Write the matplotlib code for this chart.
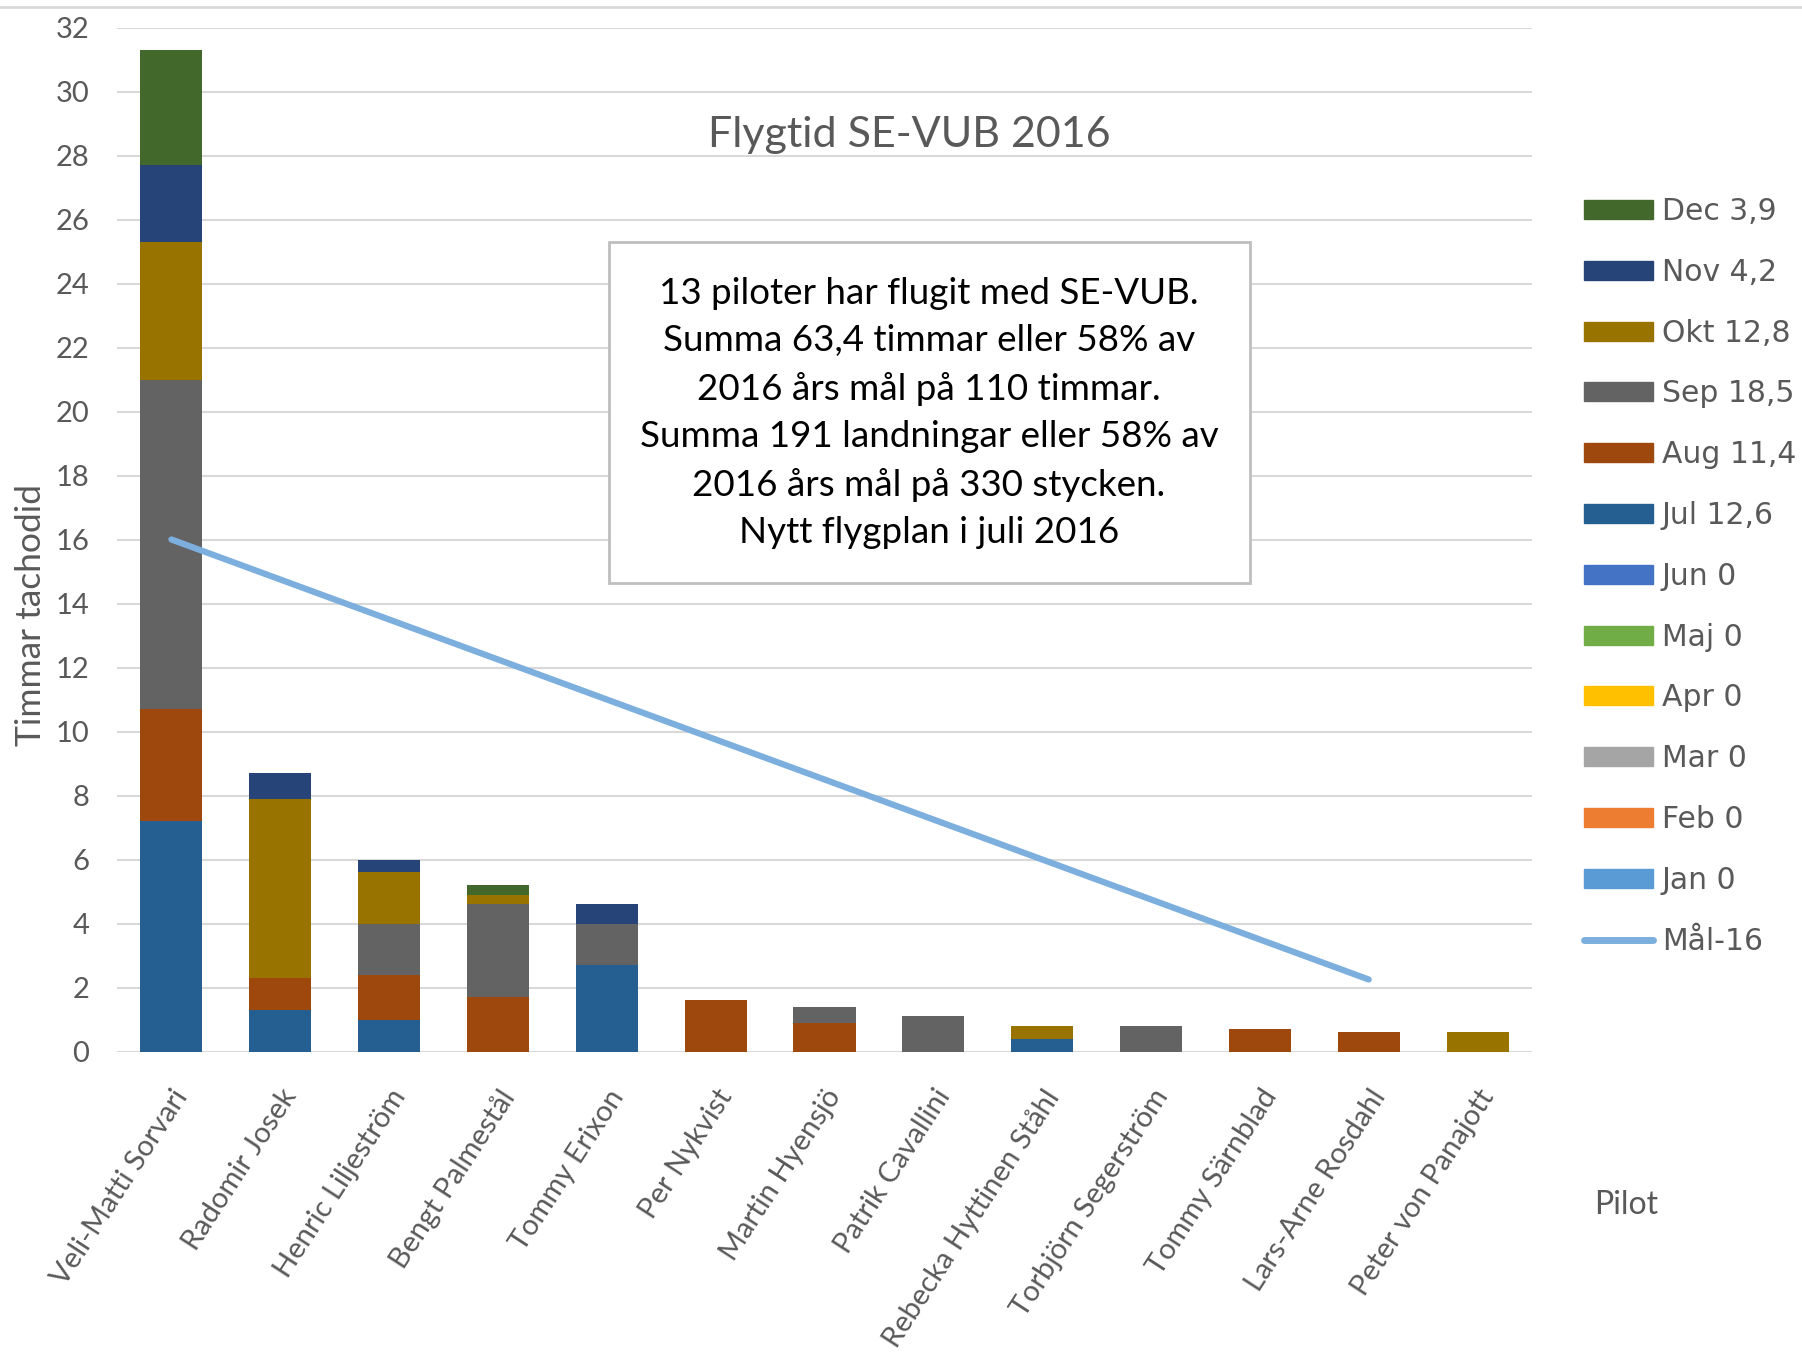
import matplotlib
matplotlib.use("Agg")
import matplotlib.pyplot as plt
from matplotlib.patches import Patch, Rectangle
from matplotlib.lines import Line2D
import numpy as np

plt.rcParams['font.family'] = ['Lato', 'DejaVu Sans']

pilots = ["Veli-Matti Sorvari", "Radomir Josek", "Henric Liljeström", "Bengt Palmestål",
          "Tommy Erixon", "Per Nykvist", "Martin Hyensjö", "Patrik Cavallini",
          "Rebecka Hyttinen Ståhl", "Torbjörn Segerström", "Tommy Särnblad",
          "Lars-Arne Rosdahl", "Peter von Panajott"]

months = ["Jan", "Feb", "Mar", "Apr", "Maj", "Jun", "Jul", "Aug", "Sep", "Okt", "Nov", "Dec"]
month_labels = ["Jan 0", "Feb 0", "Mar 0", "Apr 0", "Maj 0", "Jun 0", "Jul 12,6",
                "Aug 11,4", "Sep 18,5", "Okt 12,8", "Nov 4,2", "Dec 3,9"]

jan = [0] * 13
feb = [0] * 13
mar = [0] * 13
apr = [0] * 13
maj = [0] * 13
jun = [0] * 13
jul = [7.2, 1.3, 1.0, 0, 2.7, 0, 0, 0, 0.4, 0, 0, 0, 0]
aug = [3.5, 1.0, 1.4, 1.7, 0, 1.6, 0.9, 0, 0, 0, 0.7, 0.6, 0]
sep = [10.3, 0, 1.6, 2.9, 1.3, 0, 0.5, 1.1, 0, 0.8, 0, 0, 0]
okt = [4.3, 5.6, 1.6, 0.3, 0, 0, 0, 0, 0.4, 0, 0, 0, 0.6]
nov = [2.4, 0.8, 0.4, 0, 0.6, 0, 0, 0, 0, 0, 0, 0, 0]
dec = [3.6, 0, 0, 0.3, 0, 0, 0, 0, 0, 0, 0, 0, 0]

# goal line (Mål-16), one value per pilot except the last
mal16 = [16.0, 14.75, 13.5, 12.25, 11.0, 9.75, 8.5, 7.25, 6.0, 4.75, 3.5, 2.25]

colors = ["#5B9BD5", "#ED7D31", "#A5A5A5", "#FFC000", "#70AD47", "#4472C4",
          "#255E91", "#9E480E", "#636363", "#997300", "#264478", "#43682B"]
line_color = "#7CAFDD"
txt_color = "#595959"

series = [jan, feb, mar, apr, maj, jun, jul, aug, sep, okt, nov, dec]

W, H = 1802, 1362
fig = plt.figure(figsize=(W / 100, H / 100), dpi=100)
ax = fig.add_axes([117 / W, 1 - 1051.5 / H, 1415 / W, 1024 / H])

x = np.arange(len(pilots))
bottom = np.zeros(len(pilots))
for vals, c in zip(series, colors):
    ax.bar(x, vals, 0.57, bottom=bottom, color=c, zorder=2)
    bottom += np.array(vals)

ax.plot(np.arange(len(mal16)), mal16, color=line_color, lw=4.5,
        solid_capstyle='round', zorder=3)

ax.set_ylim(0, 32)
ax.set_xlim(-0.5, 12.5)
ax.set_yticks(range(0, 33, 2))
ax.yaxis.grid(True, color="#D9D9D9", lw=1.5, zorder=0)
ax.set_axisbelow(True)
for s in ax.spines.values():
    s.set_visible(False)
ax.tick_params(axis='y', length=0, colors=txt_color, labelsize=21, pad=20)
ax.set_xticks(x)
ax.set_xticklabels(pilots, rotation=57, ha='right', va='top', rotation_mode='anchor')
ax.tick_params(axis='x', length=0, colors=txt_color, labelsize=21, pad=24)

fig.text(31 / W, 1 - 615 / H, "Timmar tachodid", rotation=90, fontsize=25.5,
         color=txt_color, ha='center', va='center')

fig.text(909 / W, 1 - 135 / H, "Flygtid SE-VUB 2016",
         fontsize=31, color=txt_color, ha='center', va='center')

# annotation box
fig.add_artist(Rectangle((609 / W, 1 - 583 / H), 641 / W, 341 / H,
                         transform=fig.transFigure, fc='white', ec='#BFBFBF', lw=2, zorder=4))
box_text = ("13 piloter har flugit med SE-VUB.\n"
            "Summa 63,4 timmar eller 58% av\n"
            "2016 års mål på 110 timmar.\n"
            "Summa 191 landningar eller 58% av\n"
            "2016 års mål på 330 stycken.\n"
            "Nytt flygplan i juli 2016")
fig.text(929 / W, 1 - 413 / H, box_text, zorder=5,
         fontsize=26.5, color="black", ha='center', va='center', linespacing=1.52)

fig.text(1626 / W, 1 - 1205 / H, "Pilot", fontsize=23, color=txt_color,
         ha='center', va='center')

# top border line
fig.add_artist(Line2D([0, 1], [1 - 7 / H, 1 - 7 / H], transform=fig.transFigure,
                      color="#D9D9D9", lw=2))

handles = [Patch(color=c) for c in colors[::-1]]
labels = month_labels[::-1]
handles.append(Line2D([], [], color=line_color, lw=5, solid_capstyle='round'))
labels.append("Mål-16")
fig.legend(handles, labels, loc='upper left', bbox_to_anchor=(1584 / W, 1 - 197 / H),
           frameon=False, prop={'family': 'DejaVu Sans', 'size': 21.5}, labelcolor=txt_color,
           handlelength=2.3, handleheight=0.6, handletextpad=0.3, labelspacing=1.065,
           borderpad=0, borderaxespad=0)

fig.savefig("out.png", dpi=100)
